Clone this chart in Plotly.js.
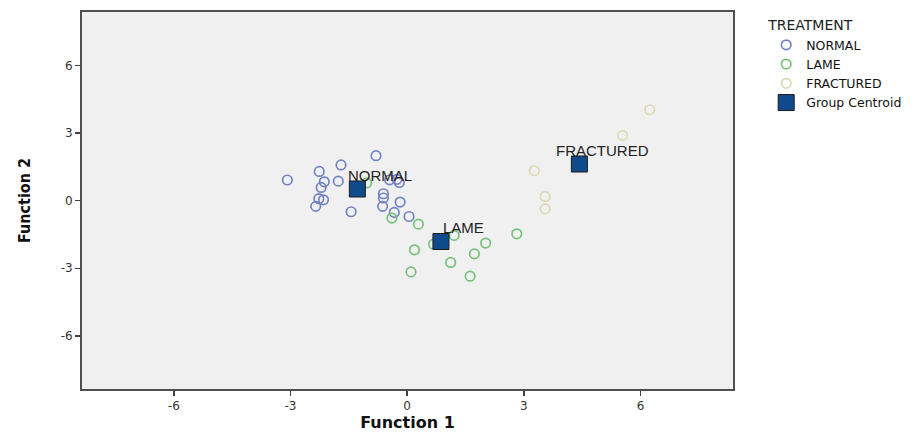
<!DOCTYPE html>
<html>
<head>
<meta charset="utf-8">
<script src="https://cdn.plot.ly/plotly-3.0.1.min.js"></script>
<style>html,body{margin:0;padding:0;background:#fff;}#chart{width:922px;height:432px;}</style>
</head>
<body>
<div id="chart"></div>
<script>
// Discriminant function scores (Function 1, Function 2) per group
const normalX = [-0.80, -1.70, -2.26, -3.08, -2.13, -1.77, -2.21, -2.27, -2.15, -2.35, -1.44, -0.61, -0.61, -0.63, -0.18, -0.33, 0.05, -0.45, -0.20, -0.26];
const normalY = [2.00, 1.59, 1.30, 0.92, 0.84, 0.87, 0.59, 0.09, 0.04, -0.25, -0.49, 0.31, 0.12, -0.25, -0.06, -0.52, -0.70, 0.93, 0.81, 0.95];

const lameX = [-1.04, -0.39, 0.29, 1.21, 0.68, 0.19, 2.02, 1.73, 1.12, 0.10, 1.62, 2.82];
const lameY = [0.79, -0.77, -1.04, -1.54, -1.93, -2.18, -1.88, -2.36, -2.74, -3.16, -3.35, -1.47];

const fracturedX = [6.24, 5.54, 3.27, 3.55, 3.55];
const fracturedY = [4.04, 2.90, 1.33, 0.19, -0.36];

const centroidLabels = ["NORMAL", "LAME", "FRACTURED"];
const centroidX = [-1.28, 0.87, 4.43];
const centroidY = [0.52, -1.81, 1.63];

const tickVals = [-6, -3, 0, 3, 6];

const FONT = 'Arial, Liberation Sans, sans-serif';
const WIDE = 'DejaVu Sans, Arial, sans-serif';

const openMarker = (c) => ({symbol: 'circle-open', size: 9.5, color: c, line: {width: 1.7, color: c}});

const traces = [
  {x: normalX, y: normalY, mode: 'markers', type: 'scatter', name: 'NORMAL', marker: openMarker('#7382c4')},
  {x: lameX, y: lameY, mode: 'markers', type: 'scatter', name: 'LAME', marker: openMarker('#74c27a')},
  {x: fracturedX, y: fracturedY, mode: 'markers', type: 'scatter', name: 'FRACTURED', marker: openMarker('#dcd8b2')},
  {x: centroidX, y: centroidY, mode: 'markers', type: 'scatter', name: 'Group Centroid',
   marker: {symbol: 'square', size: 16, color: '#0f4a8a', line: {width: 1, color: '#1a1a1a'}}}
];

const annotations = centroidLabels.map((t, i) => ({
  x: centroidX[i], y: centroidY[i], xref: 'x', yref: 'y', text: t, showarrow: false,
  xshift: 23, yshift: 14, font: {family: FONT, size: 15, color: '#222'}
}));

const axisCommon = {
  showgrid: false, zeroline: false, showline: true, mirror: true,
  linecolor: '#505050', linewidth: 2, ticks: 'outside', ticklen: 5, tickwidth: 1.5, tickcolor: '#404040',
  tickvals: tickVals, ticktext: tickVals.map(String),
  tickfont: {family: WIDE, size: 12, color: '#333'}
};

const layout = {
  width: 922, height: 432,
  margin: {l: 82, r: 189, t: 12, b: 43},
  paper_bgcolor: '#ffffff', plot_bgcolor: '#f0f0f0',
  showlegend: true,
  xaxis: Object.assign({}, axisCommon, {range: [-8.36, 8.38],
    title: {text: '<b>Function 1</b>', standoff: 9, font: {family: WIDE, size: 16, color: '#111'}}}),
  yaxis: Object.assign({}, axisCommon, {range: [-8.36, 8.38],
    title: {text: '<b>Function 2</b>', standoff: 26, font: {family: 'Liberation Sans Narrow, Arial Narrow, DejaVu Sans Condensed, Arial, sans-serif', size: 16, color: '#111'}}}),
  legend: {
    x: 1.051, y: 1.0, xref: 'paper', yref: 'paper', xanchor: 'left', yanchor: 'top',
    bgcolor: 'rgba(0,0,0,0)',
    title: {text: 'TREATMENT', font: {family: WIDE, size: 14, color: '#222'}},
    font: {family: WIDE, size: 12.5, color: '#111'},
    tracegroupgap: 0, itemwidth: 30
  },
  annotations: annotations
};

Plotly.newPlot('chart', traces, layout, {displayModeBar: false, staticPlot: true});
</script>
</body>
</html>
